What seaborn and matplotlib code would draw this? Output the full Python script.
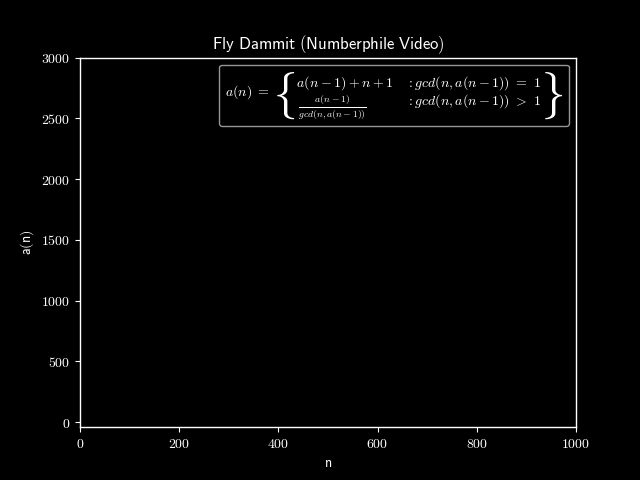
import matplotlib
matplotlib.use("Agg")
import matplotlib.pyplot as plt
import seaborn as sns
from matplotlib.ticker import FuncFormatter, FixedLocator

# Data (the frame shows no sequence values yet)
n_values = []
a_values = []
x_ticks = [0, 200, 400, 600, 800, 1000]
y_ticks = [0, 500, 1000, 1500, 2000, 2500, 3000]
title = r"$\mathsf{Fly\ Dammit\ (Numberphile\ Video)}$"
xlabel = r"$\mathsf{n}$"
ylabel = r"$\mathsf{a(n)}$"
formula = (r"$a(n)\ =\,\left\lbrace\genfrac{}{}{0}{0}{a(n-1)+n+1}"
           r"{\frac{a(n-1)}{gcd(n,a(n-1))}\qquad}\quad"
           r"\genfrac{}{}{0}{0}{:gcd(n,a(n-1))\ =\ 1}{:gcd(n,a(n-1))\ >\ 1}\right\rbrace$")

sns.set_theme(style="dark", rc={
    "figure.facecolor": "black", "axes.facecolor": "black",
    "axes.edgecolor": "white", "axes.labelcolor": "white",
    "text.color": "white", "xtick.color": "white", "ytick.color": "white",
    "axes.grid": False, "xtick.bottom": True, "ytick.left": True,
    "axes.linewidth": 1.0, "font.size": 10, "axes.titlesize": 12,
    "axes.labelsize": 10, "xtick.labelsize": 10, "ytick.labelsize": 10,
    "mathtext.fontset": "cm",
})

fig, ax = plt.subplots(figsize=(6.4, 4.8), dpi=100)
fig.subplots_adjust(left=0.125, right=0.9, bottom=0.11, top=0.88)
if len(n_values):
    sns.lineplot(x=n_values, y=a_values, ax=ax, color="white", label=formula)
else:
    ax.plot(n_values, a_values, color="none", label=formula)

ax.set_xlim(0, 1000)
ax.set_ylim(-41, 3000)
ax.xaxis.set_major_locator(FixedLocator(x_ticks))
ax.yaxis.set_major_locator(FixedLocator(y_ticks))
fmt = FuncFormatter(lambda v, p: f"${int(v)}$")
ax.xaxis.set_major_formatter(fmt)
ax.yaxis.set_major_formatter(fmt)
ax.tick_params(length=3.5, width=0.8, colors="white")
for s in ax.spines.values():
    s.set_visible(True)
    s.set_color("white")
ax.set_title(title, color="white", fontsize=12)
ax.set_xlabel(xlabel)
ax.set_ylabel(ylabel)

leg = ax.legend(loc="upper right", handlelength=0, handletextpad=0,
                fontsize=10, facecolor="black", edgecolor="#bbbbbb",
                framealpha=0.8, fancybox=True)
for t in leg.get_texts():
    t.set_color("white")

fig.savefig("out.png", dpi=100, facecolor="black")
